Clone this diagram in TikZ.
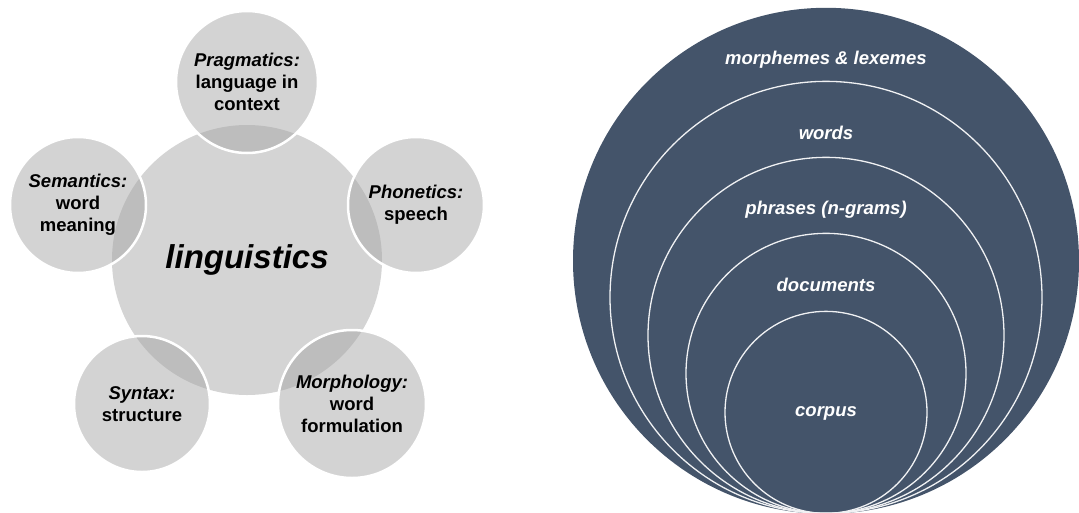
\documentclass[tikz,border=0pt]{standalone}
\usepackage{fontspec}
\setmainfont{Liberation Sans}
\usetikzlibrary{positioning}
\definecolor{hubgray}{gray}{0.83}
\definecolor{satgray}{gray}{0.66}
\definecolor{slate}{HTML}{44546A}

\begin{document}
\begin{tikzpicture}[x=1pt, y=-1pt,
  font=\bfseries\fontsize{18.5}{22}\selectfont,
  hub/.style={circle, fill=hubgray, inner sep=0pt, minimum size=270pt,
              font=\bfseries\itshape\fontsize{33}{40}\selectfont},
  sat/.style={circle, fill=satgray, fill opacity=0.5, text opacity=1,
              draw=white, draw opacity=1, line width=2.5pt,
              inner sep=0pt, minimum size=136pt, align=center},
  ring/.style={circle, draw=white!92!slate, line width=1.3pt,
               inner sep=0pt, anchor=south},
  lab/.style={text=white, font=\bfseries\itshape\fontsize{18.5}{22}\selectfont}]
\useasboundingbox (0,0) rectangle (1079,512);
\clip (0,0) rectangle (1079,512);

% left: linguistics and its five fields
\node[hub] (ling) at (247,260) {linguistics};
\node[sat, minimum size=142pt] (prag) at (247,82) {\textit{Pragmatics:}\\language in\\context};
\node[sat] (phon) at (416,205) {\textit{Phonetics:}\\speech};
\node[sat] (sem) at (78,205) {\textit{Semantics:}\\word\\meaning};
\node[sat] (syn) at (142,404) {\textit{Syntax:}\\structure};
\node[sat, minimum size=148pt] (morph) at (352,404) {\textit{Morphology:}\\word\\formulation};

% right: nested levels of text
\node[circle, fill=slate, inner sep=0pt, minimum size=506pt, anchor=south] (lexemes) at (826,514) {};
\node[ring, minimum size=432pt] (words) at (826,514) {};
\node[ring, minimum size=356pt] (phrases) at (826,514) {};
\node[ring, minimum size=280pt] (docs) at (826,514) {};
\node[ring, minimum size=202pt] (corpus) at (826,514) {};

\node[lab] (t-lex) at (826,60) {morphemes \& lexemes};
\node[lab] (t-words) at (826,133) {words};
\node[lab] (t-phrases) at (826,210) {phrases (n-grams)};
\node[lab] (t-docs) at (826,285) {documents};
\node[lab] (t-corpus) at (826,413) {corpus};
\end{tikzpicture}
\end{document}
